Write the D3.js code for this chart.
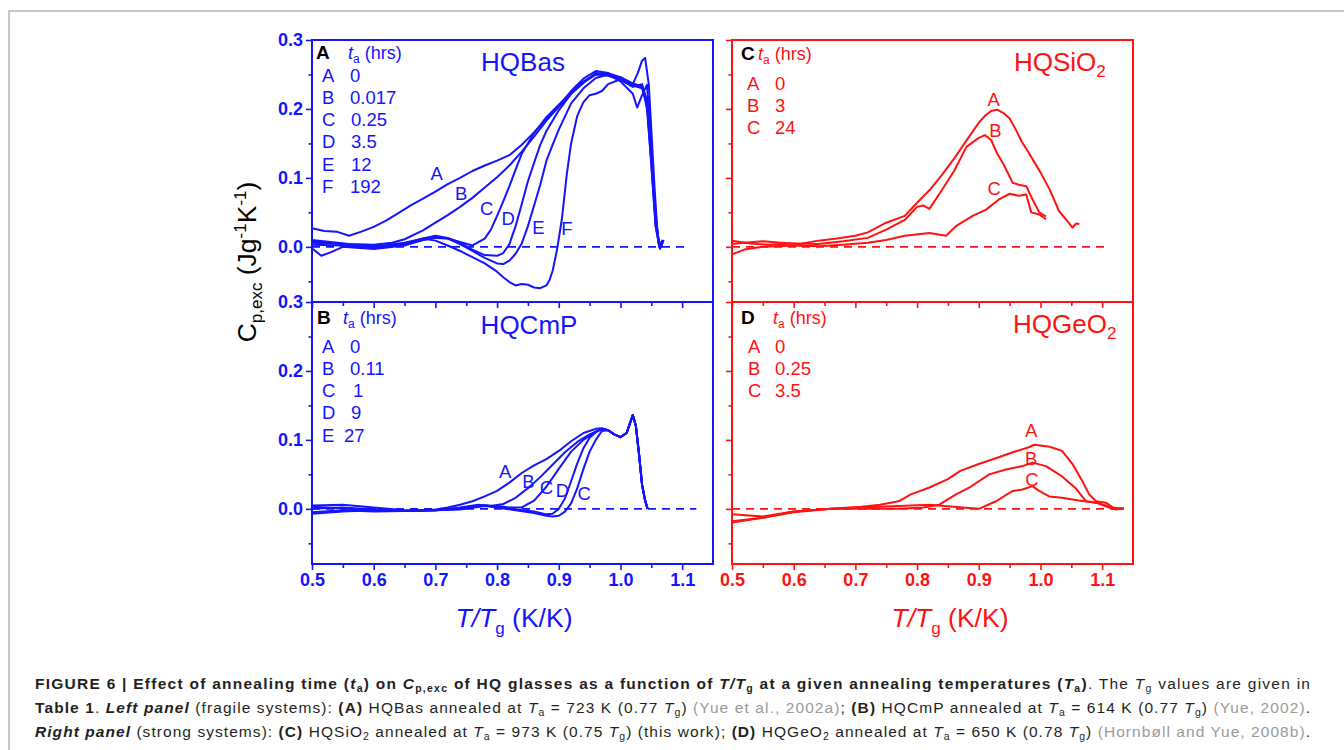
<!DOCTYPE html>
<html>
<head>
<meta charset="utf-8">
<script src="https://cdn.jsdelivr.net/npm/d3@7"></script>
<style>
  body { margin: 0; background: #fff; }
  svg { display: block; font-family: "Liberation Sans", Arial, sans-serif; }
</style>
</head>
<body>
<svg width="1344" height="750"></svg>
<script>
// ---- data: [T/Tg, Cp,exc] ----
// (A) HQBas
const basA = [[0.50,0.027],[0.52,0.023],[0.54,0.022],[0.56,0.016],[0.58,0.022],[0.60,0.029],[0.62,0.038],[0.64,0.049],[0.66,0.060],[0.68,0.070],[0.70,0.080],[0.72,0.091],[0.74,0.100],[0.76,0.110],[0.78,0.118],[0.80,0.125],[0.82,0.133],[0.84,0.148],[0.86,0.166],[0.88,0.186],[0.90,0.204],[0.92,0.226],[0.94,0.244],[0.96,0.255],[0.98,0.252],[1.00,0.246],[1.02,0.237],[1.035,0.232],[1.042,0.215],[1.05,0.140],[1.056,0.060],[1.062,0.005],[1.066,0.000],[1.07,0.010]];
const basB = [[0.50,0.010],[0.53,0.007],[0.56,0.004],[0.60,0.003],[0.63,0.006],[0.65,0.011],[0.68,0.024],[0.70,0.035],[0.72,0.046],[0.74,0.058],[0.76,0.071],[0.78,0.086],[0.80,0.101],[0.82,0.118],[0.84,0.138],[0.86,0.160],[0.88,0.183],[0.90,0.203],[0.92,0.222],[0.94,0.238],[0.96,0.252],[0.98,0.250],[1.00,0.244],[1.02,0.234],[1.035,0.230],[1.043,0.210],[1.05,0.130],[1.057,0.040],[1.063,0.003],[1.068,0.008]];
const basC = [[0.50,0.006],[0.55,0.004],[0.60,0.001],[0.65,0.004],[0.68,0.010],[0.70,0.013],[0.72,0.012],[0.74,0.007],[0.76,0.002],[0.78,0.012],[0.79,0.025],[0.80,0.045],[0.81,0.066],[0.82,0.088],[0.83,0.112],[0.84,0.135],[0.86,0.165],[0.88,0.188],[0.90,0.206],[0.92,0.224],[0.94,0.240],[0.96,0.250],[0.98,0.252],[1.00,0.243],[1.02,0.236],[1.035,0.234],[1.043,0.200],[1.05,0.120],[1.057,0.030],[1.063,0.000],[1.068,0.006]];
const basD = [[0.50,0.003],[0.55,0.002],[0.60,-0.002],[0.65,0.004],[0.68,0.012],[0.70,0.016],[0.72,0.013],[0.74,0.006],[0.76,-0.004],[0.78,-0.012],[0.80,-0.013],[0.81,-0.009],[0.82,0.004],[0.83,0.030],[0.84,0.062],[0.85,0.095],[0.86,0.122],[0.87,0.148],[0.88,0.168],[0.90,0.198],[0.92,0.222],[0.94,0.238],[0.96,0.250],[0.98,0.248],[1.00,0.242],[1.02,0.232],[1.035,0.236],[1.043,0.210],[1.05,0.120],[1.057,0.030],[1.063,0.002],[1.068,0.008]];
const basE = [[0.50,-0.002],[0.515,-0.013],[0.53,-0.008],[0.55,0.000],[0.60,-0.003],[0.65,0.002],[0.68,0.010],[0.70,0.014],[0.72,0.012],[0.74,0.004],[0.76,-0.006],[0.78,-0.016],[0.80,-0.024],[0.81,-0.025],[0.82,-0.020],[0.83,-0.010],[0.84,0.005],[0.85,0.030],[0.86,0.060],[0.87,0.090],[0.88,0.125],[0.89,0.148],[0.90,0.170],[0.92,0.208],[0.94,0.230],[0.96,0.245],[0.98,0.250],[1.00,0.240],[1.02,0.222],[1.027,0.202],[1.035,0.220],[1.043,0.235],[1.05,0.150],[1.057,0.040],[1.063,0.000],[1.068,0.010]];
const basF = [[0.50,0.008],[0.55,0.004],[0.60,0.000],[0.65,0.006],[0.68,0.012],[0.70,0.009],[0.72,0.002],[0.74,-0.006],[0.76,-0.015],[0.78,-0.024],[0.80,-0.036],[0.81,-0.044],[0.82,-0.051],[0.83,-0.056],[0.84,-0.054],[0.85,-0.055],[0.86,-0.059],[0.87,-0.060],[0.88,-0.056],[0.885,-0.048],[0.89,-0.035],[0.897,-0.005],[0.905,0.040],[0.913,0.105],[0.92,0.150],[0.93,0.190],[0.94,0.210],[0.95,0.220],[0.96,0.222],[0.97,0.226],[0.98,0.236],[1.00,0.243],[1.02,0.236],[1.028,0.252],[1.035,0.270],[1.04,0.274],[1.046,0.235],[1.05,0.170],[1.055,0.090],[1.06,0.020],[1.064,-0.003],[1.068,0.005]];

// (B) HQCmP, all five runs share the same high-temperature tail
const cmpA = [[0.50,0.005],[0.55,0.006],[0.60,0.002],[0.65,-0.002],[0.68,-0.002],[0.70,-0.001],[0.72,0.002],[0.74,0.006],[0.76,0.011],[0.78,0.018],[0.80,0.026],[0.82,0.038],[0.84,0.052],[0.86,0.063],[0.88,0.072],[0.90,0.084],[0.92,0.098],[0.94,0.110],[0.96,0.116],[0.97,0.117]];
const cmpB = [[0.50,0.000],[0.55,0.002],[0.60,-0.001],[0.65,-0.003],[0.70,-0.002],[0.74,0.002],[0.77,0.006],[0.79,0.004],[0.81,0.007],[0.83,0.016],[0.85,0.030],[0.87,0.046],[0.89,0.064],[0.91,0.082],[0.93,0.097],[0.95,0.108],[0.97,0.116]];
const cmpC = [[0.50,-0.005],[0.55,-0.002],[0.60,-0.004],[0.65,-0.003],[0.70,-0.002],[0.74,0.001],[0.78,0.005],[0.80,0.004],[0.82,0.002],[0.84,0.002],[0.86,0.012],[0.88,0.032],[0.90,0.058],[0.92,0.083],[0.94,0.100],[0.96,0.112],[0.97,0.116]];
const cmpD = [[0.50,0.003],[0.55,0.001],[0.60,-0.003],[0.65,-0.003],[0.70,-0.002],[0.74,0.000],[0.78,0.005],[0.80,0.003],[0.83,-0.001],[0.86,-0.004],[0.88,-0.008],[0.89,-0.007],[0.90,0.000],[0.91,0.015],[0.92,0.040],[0.93,0.066],[0.94,0.088],[0.95,0.103],[0.96,0.111],[0.97,0.116]];
const cmpE = [[0.50,-0.007],[0.55,-0.004],[0.60,-0.002],[0.65,-0.003],[0.70,-0.002],[0.74,-0.001],[0.78,0.004],[0.80,0.002],[0.83,-0.002],[0.86,-0.006],[0.88,-0.010],[0.89,-0.011],[0.90,-0.010],[0.91,-0.004],[0.92,0.008],[0.93,0.030],[0.94,0.058],[0.95,0.083],[0.96,0.100],[0.97,0.113]];
const cmpTail = [[0.98,0.114],[0.99,0.108],[1.00,0.104],[1.01,0.110],[1.02,0.136],[1.025,0.120],[1.03,0.080],[1.035,0.035],[1.04,0.012],[1.044,0.000]];

// (C) HQSiO2
const siA = [[0.50,0.004],[0.52,0.006],[0.55,0.008],[0.58,0.006],[0.61,0.004],[0.64,0.009],[0.67,0.012],[0.70,0.016],[0.72,0.021],[0.75,0.035],[0.78,0.045],[0.80,0.064],[0.82,0.082],[0.84,0.104],[0.86,0.128],[0.88,0.154],[0.90,0.180],[0.91,0.190],[0.92,0.197],[0.93,0.199],[0.94,0.194],[0.95,0.186],[0.96,0.170],[0.97,0.152],[0.98,0.138],[1.00,0.108],[1.015,0.083],[1.03,0.052],[1.045,0.036],[1.052,0.028],[1.058,0.034],[1.063,0.033]];
const siB = [[0.50,0.009],[0.53,0.005],[0.56,0.003],[0.60,0.005],[0.64,0.004],[0.68,0.008],[0.72,0.013],[0.75,0.025],[0.78,0.039],[0.80,0.058],[0.81,0.060],[0.82,0.055],[0.84,0.082],[0.86,0.110],[0.88,0.145],[0.90,0.158],[0.91,0.162],[0.92,0.155],[0.93,0.135],[0.94,0.120],[0.955,0.093],[0.965,0.090],[0.977,0.088],[0.987,0.069],[0.998,0.050],[1.009,0.044]];
const siC = [[0.50,-0.011],[0.52,-0.004],[0.55,0.000],[0.60,0.002],[0.64,0.001],[0.68,0.003],[0.72,0.006],[0.75,0.010],[0.78,0.016],[0.82,0.020],[0.847,0.016],[0.863,0.030],[0.89,0.045],[0.912,0.054],[0.933,0.069],[0.95,0.077],[0.965,0.074],[0.977,0.076],[0.985,0.050],[0.998,0.047],[1.009,0.040]];

// (D) HQGeO2
const geA = [[0.50,-0.018],[0.55,-0.013],[0.60,-0.004],[0.66,0.000],[0.71,0.003],[0.74,0.006],[0.77,0.011],[0.79,0.021],[0.82,0.031],[0.85,0.043],[0.87,0.055],[0.90,0.065],[0.93,0.074],[0.955,0.082],[0.98,0.089],[0.99,0.093],[1.015,0.090],[1.035,0.084],[1.052,0.065],[1.068,0.040],[1.079,0.021],[1.09,0.011],[1.106,0.009],[1.122,-0.001],[1.135,0.001]];
const geB = [[0.50,-0.020],[0.55,-0.013],[0.60,-0.005],[0.66,0.000],[0.71,0.000],[0.77,0.000],[0.81,0.002],[0.836,0.006],[0.863,0.021],[0.885,0.031],[0.917,0.050],[0.944,0.057],[0.971,0.062],[0.987,0.067],[1.009,0.062],[1.035,0.047],[1.057,0.030],[1.074,0.011],[1.09,0.009],[1.117,0.002],[1.135,0.000]];
const geC = [[0.50,-0.008],[0.55,-0.011],[0.60,-0.004],[0.66,0.000],[0.71,0.002],[0.77,0.004],[0.82,0.006],[0.874,0.002],[0.90,0.000],[0.928,0.011],[0.955,0.026],[0.971,0.028],[0.987,0.033],[0.998,0.026],[1.014,0.018],[1.035,0.016],[1.062,0.012],[1.09,0.009],[1.117,0.000],[1.135,0.000]];

// legends: curve letter and annealing time (hrs)
const basLegend = [['A','0'],['B','0.017'],['C','0.25'],['D','3.5'],['E','12'],['F','192']];
const cmpLegend = [['A','0'],['B','0.11'],['C','1'],['D','9'],['E','27']];
const siLegend  = [['A','0'],['B','3'],['C','24']];
const geLegend  = [['A','0'],['B','0.25'],['C','3.5']];

// curve labels placed in data coordinates
const basLabels = [['A',0.702,0.107],['B',0.742,0.078],['C',0.783,0.055],['D',0.818,0.041],['E',0.867,0.028],['F',0.913,0.026]];
const cmpLabels = [['A',0.813,0.054],['B',0.851,0.039],['C',0.880,0.031],['D',0.906,0.027],['C',0.941,0.022]];
const siLabels  = [['A',0.924,0.214],['B',0.927,0.168],['C',0.925,0.084]];
const geLabels  = [['A',0.985,0.113],['B',0.985,0.073],['C',0.986,0.042]];

const xMajor = [0.5,0.6,0.7,0.8,0.9,1.0,1.1];
const xMinor = [0.55,0.65,0.75,0.85,0.95,1.05];
const yMajor = [0.0,0.1,0.2,0.3];
const yMinor = [-0.05,0.05,0.15,0.25];

// ---- drawing ----
const svg = d3.select('svg');
const FONT = '"Liberation Sans", Arial, sans-serif';
const BLUE = '#1414ff', RED = '#ff1212';
const W = 401, H = 262;

// page frame
svg.append('path').attr('d', 'M9,750V11H1344')
    .attr('fill', 'none').attr('stroke', '#b4b4b4').attr('stroke-width', 1.5);

const panels = [
    { tag: 'A', title: 'HQBas', sub: '', anchor: 'middle', tx: 211, ty: 31, color: BLUE, left: 312, top: 40,
      curves: [basA, basB, basC, basD, basE, basF], legend: basLegend, labels: basLabels,
      tagX: 4, hdrX: 36, hdrY: 12, keyX: 10, valX: 38, rowY: 35, valDx: [0,0,1,1,1,0],
      dashEnd: 1.107, yLabels: true, xLabels: false },
    { tag: 'B', title: 'HQCmP', sub: '', anchor: 'middle', tx: 217, ty: 32, color: BLUE, left: 312, top: 302,
      curves: [cmpA.concat(cmpTail), cmpB.concat(cmpTail), cmpC.concat(cmpTail), cmpD.concat(cmpTail), cmpE.concat(cmpTail)],
      legend: cmpLegend, labels: cmpLabels,
      tagX: 5, hdrX: 31, hdrY: 15, keyX: 10, valX: 38, rowY: 44, valDx: [0,0,3,1,-6],
      dashEnd: 1.123, yLabels: true, xLabels: true },
    { tag: 'C', title: 'HQSiO', sub: '2', anchor: 'start', tx: 282, ty: 31, color: RED, left: 732, top: 40,
      curves: [siA, siB, siC], legend: siLegend, labels: siLabels,
      tagX: 9, hdrX: 26, hdrY: 13, keyX: 15, valX: 43, rowY: 43, valDx: [0,0,0],
      dashEnd: 1.108, yLabels: false, xLabels: false },
    { tag: 'D', title: 'HQGeO', sub: '2', anchor: 'start', tx: 281, ty: 31, color: RED, left: 732, top: 302,
      curves: [geA, geB, geC], legend: geLegend, labels: geLabels,
      tagX: 9, hdrX: 41, hdrY: 15, keyX: 16, valX: 43, rowY: 44, valDx: [0,0,0],
      dashEnd: 1.135, yLabels: false, xLabels: true }
];

function styleAxis(sel, color) {
    sel.select('.domain').remove();
    sel.selectAll('.tick line').attr('stroke', color).attr('stroke-width', 1.6);
    sel.selectAll('.tick text').attr('fill', color).attr('font-size', 18)
        .attr('font-weight', 'bold').attr('font-family', FONT);
}

function drawPanel(p) {
    const x = d3.scaleLinear().domain([0.5, 1.15]).range([p.left, p.left + W]);
    const y = d3.scaleLinear().domain([-0.08, 0.3]).range([p.top + H, p.top]);
    const g = svg.append('g');

    // dashed zero line
    g.append('line')
        .attr('x1', x(0.5)).attr('x2', x(p.dashEnd)).attr('y1', y(0)).attr('y2', y(0))
        .attr('stroke', p.color).attr('stroke-width', 1.8).attr('stroke-dasharray', '8,6');

    const line = d3.line().x(d => x(d[0])).y(d => y(d[1]));
    p.curves.forEach(c => {
        g.append('path').attr('d', line(c))
            .attr('fill', 'none').attr('stroke', p.color)
            .attr('stroke-width', 2).attr('stroke-linejoin', 'round');
    });

    g.append('rect').attr('x', p.left).attr('y', p.top).attr('width', W).attr('height', H)
        .attr('fill', 'none').attr('stroke', p.color).attr('stroke-width', 2);

    // y axis (major + minor)
    g.append('g').attr('transform', `translate(${p.left},0)`)
        .call(d3.axisLeft(y).tickValues(yMajor).tickSize(6).tickPadding(3)
            .tickFormat(p.yLabels ? d3.format('.1f') : () => ''))
        .call(s => styleAxis(s, p.color));
    g.append('g').attr('transform', `translate(${p.left},0)`)
        .call(d3.axisLeft(y).tickValues(yMinor).tickSize(3.5).tickFormat(() => ''))
        .call(s => styleAxis(s, p.color));

    // x axis (major + minor)
    g.append('g').attr('transform', `translate(0,${p.top + H})`)
        .call(d3.axisBottom(x).tickValues(xMajor).tickSize(6).tickPadding(3)
            .tickFormat(p.xLabels ? d3.format('.1f') : () => ''))
        .call(s => styleAxis(s, p.color));
    g.append('g').attr('transform', `translate(0,${p.top + H})`)
        .call(d3.axisBottom(x).tickValues(xMinor).tickSize(4).tickFormat(() => ''))
        .call(s => styleAxis(s, p.color));

    // sample title
    const t = g.append('text').attr('x', p.left + p.tx).attr('y', p.top + p.ty)
        .attr('text-anchor', p.anchor).attr('font-size', 26).attr('fill', p.color);
    t.append('tspan').text(p.title);
    if (p.sub) t.append('tspan').attr('dy', 6).attr('font-size', 17).text(p.sub);

    // legend header
    g.append('text').attr('x', p.left + p.tagX).attr('y', p.top + p.hdrY + 7)
        .attr('font-size', 19).attr('font-weight', 'bold').attr('fill', '#000').text(p.tag);
    const h = g.append('text').attr('x', p.left + p.hdrX).attr('y', p.top + p.hdrY + 6.5)
        .attr('font-size', 18).attr('fill', p.color);
    h.append('tspan').attr('font-style', 'italic').text('t');
    h.append('tspan').attr('dy', 4).attr('font-size', 12).text('a');
    h.append('tspan').attr('dy', -4).text(' (hrs)');

    // legend rows
    p.legend.forEach((r, i) => {
        const yy = p.top + p.rowY + i * 22.3 + 6.5;
        g.append('text').attr('x', p.left + p.keyX).attr('y', yy)
            .attr('font-size', 18.5).attr('fill', p.color).text(r[0]);
        g.append('text').attr('x', p.left + p.valX + p.valDx[i]).attr('y', yy)
            .attr('font-size', 18.5).attr('fill', p.color).text(r[1]);
    });

    // curve labels
    p.labels.forEach(l => {
        g.append('text').attr('x', x(l[1])).attr('y', y(l[2])).attr('dy', '0.35em')
            .attr('text-anchor', 'middle').attr('font-size', 18.5).attr('fill', p.color).text(l[0]);
    });
}

panels.forEach(drawPanel);

// y axis title
const yt = svg.append('text').attr('transform', 'translate(256,262) rotate(-90)')
    .attr('text-anchor', 'middle').attr('font-size', 26.5).attr('fill', '#000');
yt.append('tspan').text('C');
yt.append('tspan').attr('dy', 6).attr('font-size', 17).text('p,exc');
yt.append('tspan').attr('dy', -6).text(' (Jg');
yt.append('tspan').attr('dy', -10).attr('font-size', 17).text('-1');
yt.append('tspan').attr('dy', 10).text('K');
yt.append('tspan').attr('dy', -10).attr('font-size', 17).text('-1');
yt.append('tspan').attr('dy', 10).text(')');

// x axis titles
[[514, BLUE], [950, RED]].forEach(([cx, col]) => {
    const xt = svg.append('text').attr('x', cx).attr('y', 627)
        .attr('text-anchor', 'middle').attr('font-size', 26.5).attr('fill', col);
    xt.append('tspan').attr('font-style', 'italic').text('T/T');
    xt.append('tspan').attr('dy', 7).attr('font-size', 17).text('g');
    xt.append('tspan').attr('dy', -7).text(' (K/K)');
});

// caption (justified to the full text block width)
const capLines = [
    [['FIGURE 6 | Effect of annealing time (', 'b'], ['t', 'bi'], ['a', 'bs'], [') on ', 'b'], ['C', 'bi'], ['p,exc', 'bs'],
     [' of HQ glasses as a function of ', 'b'], ['T/T', 'bi'], ['g', 'bs'], [' at a given annealing temperatures (', 'b'],
     ['T', 'bi'], ['a', 'bs'], [')', 'b'], ['. The ', ''], ['T', 'i'], ['g', 's'], [' values are given in', '']],
    [['Table 1', 'b'], ['. ', ''], ['Left panel', 'bi'], [' (fragile systems): ', ''], ['(A)', 'b'], [' HQBas annealed at ', ''],
     ['T', 'i'], ['a', 's'], [' = 723 K (0.77 ', ''], ['T', 'i'], ['g', 's'], [') ', ''], ['(Yue et al., 2002a)', 'g'], ['; ', ''],
     ['(B)', 'b'], [' HQCmP annealed at ', ''], ['T', 'i'], ['a', 's'], [' = 614 K (0.77 ', ''], ['T', 'i'], ['g', 's'], [') ', ''],
     ['(Yue, 2002)', 'g'], ['.', '']],
    [['Right panel', 'bi'], [' (strong systems): ', ''], ['(C)', 'b'], [' HQSiO', ''], ['2', 's'], [' annealed at ', ''],
     ['T', 'i'], ['a', 's'], [' = 973 K (0.75 ', ''], ['T', 'i'], ['g', 's'], [') (this work); ', ''], ['(D)', 'b'], [' HQGeO', ''],
     ['2', 's'], [' annealed at ', ''], ['T', 'i'], ['a', 's'], [' = 650 K (0.78 ', ''], ['T', 'i'], ['g', 's'], [') ', ''],
     ['(Hornbøll and Yue, 2008b)', 'g'], ['.', '']]
];
const capY = [689, 713, 737];
capLines.forEach((parts, li) => {
    const txt = svg.append('text').attr('x', 35).attr('y', capY[li])
        .attr('font-size', 15.5).attr('fill', '#231f20')
        .attr('textLength', 1275).attr('lengthAdjust', 'spacing');
    let shifted = false;
    parts.forEach(([s, f]) => {
        const sp = txt.append('tspan').text(s);
        if (f.includes('b')) sp.attr('font-weight', 'bold');
        if (f.includes('i')) sp.attr('font-style', 'italic');
        if (f.includes('g')) sp.attr('fill', '#9a9a9a');
        if (f.includes('s')) { sp.attr('font-size', 10.5).attr('dy', 3); shifted = true; }
        else if (shifted) { sp.attr('dy', -3); shifted = false; }
    });
});
</script>
</body>
</html>
